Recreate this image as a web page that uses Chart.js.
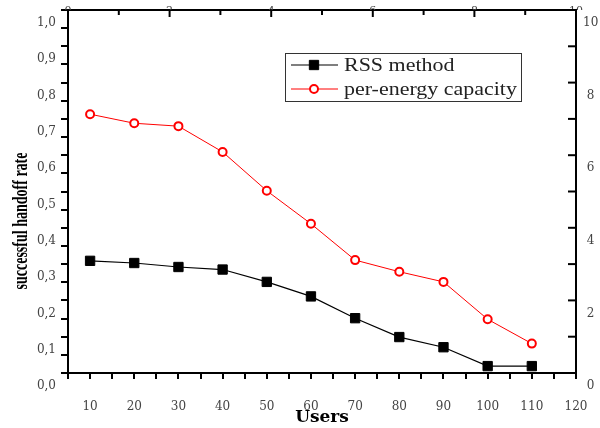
<!DOCTYPE html>
<html>
<head>
<meta charset="utf-8">
<script src="https://cdn.jsdelivr.net/npm/chart.js@4.4.1/dist/chart.umd.min.js"></script>
<style>
  html, body { margin: 0; padding: 0; background: #fff; }
  #wrap { width: 600px; height: 428px; }
</style>
</head>
<body>
<div id="wrap"><canvas id="chart" width="600" height="428"></canvas></div>
<script>
// Data
const users = [10, 20, 30, 40, 50, 60, 70, 80, 90, 100, 110];
const rssRate = [0.309, 0.303, 0.292, 0.285, 0.251, 0.211, 0.151, 0.099, 0.071, 0.019, 0.019];
const energyRate = [0.713, 0.688, 0.680, 0.609, 0.502, 0.411, 0.311, 0.279, 0.251, 0.148, 0.081];
const seriesNames = ['RSS method', 'per-energy capacity'];
const yAxisTitle = 'successful handoff rate';
const xAxisTitle = 'Users';

const tickFont = { family: 'DejaVu Serif', size: 12 };
const tickColor = '#444';

/**
 * Inward tick marks for the top and right axes
 */
const innerTicks = {
    id: 'innerTicks',
    afterDraw(chart) {
        const { ctx, chartArea } = chart;
        const top = chart.scales.xTop;
        const right = chart.scales.yRight;
        ctx.save();
        ctx.strokeStyle = '#000';
        ctx.lineWidth = 2;
        top.ticks.forEach(t => {
            const x = top.getPixelForValue(t.value);
            const len = t.value % 2 === 0 ? 7 : 5;
            ctx.beginPath();
            ctx.moveTo(x, chartArea.top);
            ctx.lineTo(x, chartArea.top + len);
            ctx.stroke();
        });
        right.ticks.forEach(t => {
            const y = right.getPixelForValue(t.value);
            ctx.beginPath();
            ctx.moveTo(chartArea.right, y);
            ctx.lineTo(chartArea.right - 8, y);
            ctx.stroke();
        });
        ctx.restore();
    }
};

/**
 * Rotated, condensed y axis title
 */
const sideTitle = {
    id: 'sideTitle',
    afterDraw(chart) {
        const ctx = chart.ctx;
        ctx.save();
        ctx.translate(21, 221);
        ctx.rotate(-Math.PI / 2);
        ctx.font = 'bold 22px "Liberation Serif"';
        const w = ctx.measureText(yAxisTitle).width;
        ctx.scale(137 / w, 1);
        ctx.fillStyle = '#000';
        ctx.textAlign = 'center';
        ctx.textBaseline = 'middle';
        ctx.fillText(yAxisTitle, 0, 0);
        ctx.restore();
    }
};

/**
 * Boxed legend inside the plot area
 */
const boxLegend = {
    id: 'boxLegend',
    afterDraw(chart) {
        const ctx = chart.ctx;
        const box = { x: 285.5, y: 53.5, w: 236, h: 48 };
        ctx.save();
        ctx.strokeStyle = '#333';
        ctx.lineWidth = 1;
        ctx.strokeRect(box.x, box.y, box.w, box.h);
        chart.data.datasets.forEach((ds, i) => {
            const y = 65 + i * 24;
            ctx.strokeStyle = ds.borderColor;
            ctx.lineWidth = ds.borderWidth;
            ctx.beginPath();
            ctx.moveTo(291, y);
            ctx.lineTo(338, y);
            ctx.stroke();

            ctx.fillStyle = ds.pointBackgroundColor;
            ctx.strokeStyle = ds.pointBorderColor;
            ctx.lineWidth = ds.pointBorderWidth;
            ctx.beginPath();
            if (ds.pointStyle === 'rect') {
                const s = ds.pointRadius * Math.SQRT1_2;
                ctx.rect(314 - s, y - s, 2 * s, 2 * s);
            } else {
                ctx.arc(314, y, ds.pointRadius, 0, Math.PI * 2);
            }
            ctx.fill();
            ctx.stroke();

            ctx.save();
            ctx.translate(344, y);
            ctx.scale(1.22, 1);
            ctx.font = '18px "Liberation Serif"';
            ctx.fillStyle = '#222';
            ctx.textBaseline = 'middle';
            ctx.fillText(ds.label, 0, 1);
            ctx.restore();
        });
        ctx.restore();
    }
};

// fixed axis sizes, no extra side padding from end labels
function fitHeight(h) {
    return s => { s.height = h; s.paddingLeft = 0; s.paddingRight = 0; };
}
function fitWidth(w) {
    return s => { s.width = w; s.paddingTop = 0; s.paddingBottom = 0; };
}

const ctx = document.getElementById('chart').getContext('2d');
new Chart(ctx, {
    type: 'line',
    data: {
        datasets: [{
            label: seriesNames[0],
            data: users.map((u, i) => ({ x: u, y: rssRate[i] })),
            borderColor: '#000',
            borderWidth: 1.2,
            pointStyle: 'rect',
            pointRadius: 6.6,
            pointBackgroundColor: '#000',
            pointBorderColor: '#000',
            pointBorderWidth: 1,
            xAxisID: 'x',
            yAxisID: 'y'
        }, {
            label: seriesNames[1],
            data: users.map((u, i) => ({ x: u, y: energyRate[i] })),
            borderColor: '#ff0000',
            borderWidth: 1,
            pointStyle: 'circle',
            pointRadius: 4,
            pointBackgroundColor: '#fff',
            pointBorderColor: '#ff0000',
            pointBorderWidth: 2,
            xAxisID: 'x',
            yAxisID: 'y'
        }]
    },
    options: {
        responsive: false,
        devicePixelRatio: 1,
        animation: false,
        layout: { padding: 0 },
        plugins: {
            legend: { display: false },
            tooltip: { enabled: false }
        },
        scales: {
            x: {
                type: 'linear',
                position: 'bottom',
                min: 5,
                max: 120,
                afterFit: fitHeight(55),
                border: { display: true, color: '#000', width: 2 },
                grid: { drawOnChartArea: false, drawTicks: true, tickLength: 6, color: '#000', lineWidth: 2 },
                ticks: {
                    stepSize: 5,
                    padding: 21,
                    maxRotation: 0,
                    autoSkip: false,
                    color: tickColor,
                    font: tickFont,
                    callback: v => (v % 10 === 0 ? String(v) : '')
                },
                title: {
                    display: true,
                    text: xAxisTitle,
                    color: '#000',
                    font: { family: 'DejaVu Serif', size: 17, weight: 'bold' },
                    padding: { top: 0, bottom: 0 }
                }
            },
            y: {
                type: 'linear',
                position: 'left',
                min: 0,
                max: 1,
                afterFit: fitWidth(68),
                border: { display: true, color: '#000', width: 2 },
                grid: { drawOnChartArea: false, drawTicks: true, tickLength: 7, color: '#000', lineWidth: 2 },
                ticks: {
                    stepSize: 0.05,
                    padding: 5,
                    labelOffset: 13,
                    autoSkip: false,
                    color: tickColor,
                    font: tickFont,
                    callback: (v, i) => (i % 2 === 0 ? v.toFixed(1).replace('.', ',') : '')
                }
            },
            xTop: {
                type: 'linear',
                axis: 'x',
                position: 'top',
                min: 0,
                max: 10,
                afterFit: fitHeight(10),
                border: { display: true, color: '#000', width: 2 },
                grid: { display: false, drawTicks: false },
                ticks: {
                    stepSize: 1,
                    padding: -8,
                    maxRotation: 0,
                    autoSkip: false,
                    color: tickColor,
                    font: { family: 'DejaVu Serif', size: 11 },
                    callback: v => (v % 2 === 0 ? String(v) : '')
                }
            },
            yRight: {
                type: 'linear',
                axis: 'y',
                position: 'right',
                min: 0,
                max: 10,
                afterFit: fitWidth(24),
                border: { display: true, color: '#000', width: 2 },
                grid: { display: false, drawTicks: false },
                ticks: {
                    stepSize: 1,
                    padding: 7,
                    labelOffset: 13,
                    crossAlign: 'center',
                    autoSkip: false,
                    color: tickColor,
                    font: tickFont,
                    callback: v => (v % 2 === 0 ? String(v) : '')
                }
            }
        }
    },
    plugins: [innerTicks, sideTitle, boxLegend]
});
</script>
</body>
</html>
